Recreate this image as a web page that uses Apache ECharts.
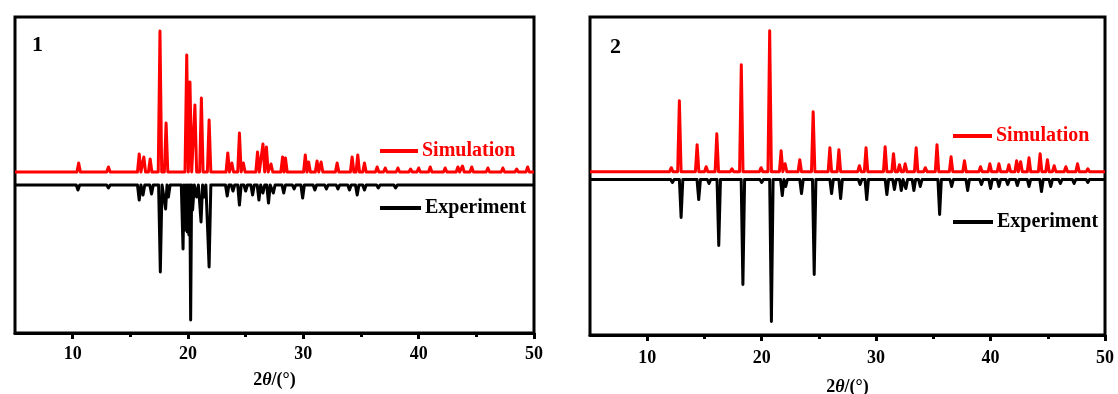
<!DOCTYPE html>
<html>
<head>
<meta charset="utf-8">
<script src="https://cdn.jsdelivr.net/npm/echarts@6/dist/echarts.min.js"></script>
<style>
html,body{margin:0;padding:0;background:#fff;}
#chart{width:1118px;height:394px;}
</style>
</head>
<body>
<div id="chart"></div>
<script>
// ---- Data (2θ in degrees, peak heights in arbitrary units) ----
const tickValues = [10, 20, 30, 40, 50];
const minorTickValues = [15, 25, 35, 45];
const seriesNames = ['Simulation', 'Experiment'];
const panelLabels = ['1', '2'];

// Panel 1
const sim1Pos = [10.52, 13.1, 15.77, 16.17, 16.72, 17.57, 18.1, 19.89, 20.17, 20.6, 21.16, 21.83, 23.45, 23.8, 24.46, 24.8, 26.03, 26.5, 26.8, 27.2, 28.2, 28.45, 30.17, 30.46, 31.19, 31.54, 32.93, 34.23, 34.72, 35.3, 36.4, 37.1, 38.2, 39.3, 40.0, 41.0, 42.3, 43.4, 43.8, 44.6, 46.0, 47.3, 48.5, 49.45];
const sim1H   = [9, 5, 18, 15, 13, 141, 49, 117, 90, 67, 74, 52, 19, 9, 39, 9, 20, 28, 25, 8, 15, 14, 17, 10, 11, 10, 9, 15, 17, 9, 5, 4, 4, 3, 4, 5, 4, 5, 6, 5, 4, 4, 3, 5];
const exp1Pos = [7.5, 10.46, 13.1, 15.77, 16.1, 16.84, 17.6, 18.06, 18.3, 19.57, 19.75, 19.94, 20.08, 20.23, 20.4, 20.75, 21.13, 21.4, 21.83, 23.4, 23.9, 24.46, 25.0, 25.6, 26.15, 26.5, 26.98, 27.4, 28.3, 29.2, 29.94, 31.0, 32.0, 33.0, 34.0, 34.67, 35.3, 36.5, 38.0, 40.5, 43.0, 45.5, 48.0];
const exp1H   = [2, 5, 3, 15, 10, 9, 87, 24, 12, 64, 45, 47, 50, 135, 25, 12, 37, 12, 82, 11, 6, 20, 6, 10, 15, 8, 18, 8, 8, 4, 13, 5, 4, 4, 5, 10, 5, 3, 3, 2, 2, 2, 2];

// Panel 2
const sim2Pos = [12.1, 12.81, 14.36, 15.15, 16.08, 17.4, 18.22, 19.95, 20.7, 21.7, 22.05, 23.33, 24.5, 25.96, 26.75, 28.54, 29.12, 30.79, 31.52, 32.04, 32.54, 33.5, 34.3, 35.32, 36.55, 37.72, 39.12, 39.94, 40.73, 41.6, 42.28, 42.63, 43.36, 44.33, 44.97, 45.56, 46.58, 47.6, 48.5];
const sim2H   = [4, 71, 27, 5, 38, 3, 107, 4, 141, 21, 8, 12, 60, 24, 22, 6, 24, 25, 18, 7, 8, 24, 4, 27, 15, 11, 5, 8, 8, 7, 11, 10, 14, 18, 12, 6, 5, 8, 3];
const exp2Pos = [12.2, 12.96, 14.5, 15.4, 16.25, 18.36, 20.0, 20.85, 21.8, 22.1, 23.48, 24.59, 26.11, 26.9, 28.6, 29.18, 30.94, 31.6, 32.2, 32.6, 33.3, 33.86, 35.55, 36.6, 38.0, 39.2, 40.0, 40.73, 41.5, 42.34, 43.36, 44.45, 45.26, 46.1, 47.3, 48.5];
const exp2H   = [3, 38, 20, 4, 66, 105, 3, 142, 16, 7, 14, 95, 14, 19, 5, 20, 15, 10, 11, 9, 11, 7, 35, 7, 11, 5, 9, 7, 5, 6, 7, 12, 7, 4, 4, 3];

// Vertical offsets of the stacked patterns (axis units)
const yMax = [316, 318];
const simBase = [161, 163.3];
const expBase = [148, 155.5];

// ---- Build stick-like peak profiles from peak lists ----
function profile(pos, h, base, sign, hw) {
  const pts = [[5, base]];
  for (let i = 0; i < pos.length; i++) {
    const p = pos[i];
    const lw = i > 0 ? Math.min(hw, (p - pos[i - 1]) / 2) : hw;
    const rw = i < pos.length - 1 ? Math.min(hw, (pos[i + 1] - p) / 2) : hw;
    pts.push([p - lw, base]);
    pts.push([p, base + sign * h[i]]);
    pts.push([p + rw, base]);
  }
  pts.push([50, base]);
  return pts;
}

const serif = 'Liberation Serif, Times New Roman, serif';
const RED = '#ff0000';
const BLACK = '#000000';

const rects = [
  { left: 15, top: 17, width: 519, height: 316 },
  { left: 590, top: 17, width: 515, height: 318 }
];

// grids 0,1: visible panels; grids 2,3: invisible overlays carrying minor ticks
const grids = [];
rects.forEach(r => grids.push(Object.assign({ show: true, borderColor: BLACK, borderWidth: 3, backgroundColor: 'transparent', outerBoundsMode: 'none', containLabel: false }, r)));
rects.forEach(r => grids.push(Object.assign({ show: false, outerBoundsMode: 'none', containLabel: false }, r)));

const xAxes = [];
const yAxes = [];
const nameGaps = [38, 43];
const labelMargins = [12, 14];
rects.forEach((g, i) => {
  xAxes.push({
    type: 'value', gridIndex: i, min: 5, max: 50, position: 'bottom',
    axisLine: { show: true, onZero: false, lineStyle: { color: BLACK, width: 3 } },
    splitLine: { show: false },
    axisTick: { show: true, inside: false, customValues: tickValues, length: 6, lineStyle: { color: BLACK, width: 3 } },
    axisLabel: { customValues: tickValues, margin: labelMargins[i], color: BLACK, fontFamily: serif, fontWeight: 'bold', fontSize: 18 },
    name: '{n|2}{i|θ}{n|/(°)}',
    nameLocation: 'middle',
    nameGap: nameGaps[i],
    nameTextStyle: {
      rich: {
        n: { fontFamily: serif, fontWeight: 'bold', fontSize: 18, color: BLACK },
        i: { fontFamily: serif, fontWeight: 'bold', fontStyle: 'italic', fontSize: 18, color: BLACK }
      }
    }
  });
});
rects.forEach((g, i) => {
  xAxes.push({
    type: 'value', gridIndex: i + 2, min: 5, max: 50, position: 'bottom',
    axisLine: { show: false, onZero: false }, splitLine: { show: false }, axisLabel: { show: false },
    axisTick: { show: true, inside: false, customValues: minorTickValues, length: 4, lineStyle: { color: BLACK, width: 3 } }
  });
});
[0, 1, 2, 3].forEach(i => {
  yAxes.push({
    type: 'value', gridIndex: i, min: 0, max: yMax[i % 2],
    axisLine: { show: false }, axisTick: { show: false }, axisLabel: { show: false }, splitLine: { show: false }
  });
});

const simData = [[sim1Pos, sim1H], [sim2Pos, sim2H]];
const expData = [[exp1Pos, exp1H], [exp2Pos, exp2H]];
const series = [];
[0, 1].forEach(i => {
  series.push({
    name: seriesNames[0], type: 'line', xAxisIndex: i, yAxisIndex: i,
    data: profile(simData[i][0], simData[i][1], simBase[i], 1, 0.15),
    showSymbol: false, symbol: 'none', color: RED,
    lineStyle: { color: RED, width: 3, join: 'round' }, z: 3
  });
  series.push({
    name: seriesNames[1], type: 'line', xAxisIndex: i, yAxisIndex: i,
    data: profile(expData[i][0], expData[i][1], expBase[i], -1, 0.15),
    showSymbol: false, symbol: 'none', color: BLACK,
    lineStyle: { color: BLACK, width: 3, join: 'round' }, z: 2
  });
});

function legendAt(name, color, left, top, w) {
  return {
    data: [{ name: name, textStyle: { color: color } }],
    left: left, top: top, padding: 0, icon: 'rect', itemWidth: w, itemHeight: 4,
    selectedMode: false,
    textStyle: { fontFamily: serif, fontWeight: 'bold', fontSize: 20, color: color, padding: [0, 0, 0, -1] }
  };
}

const option = {
  animation: false,
  backgroundColor: '#ffffff',
  grid: grids,
  xAxis: xAxes,
  yAxis: yAxes,
  legend: [
    legendAt(seriesNames[0], RED, 380, 141, 38),
    legendAt(seriesNames[1], BLACK, 380, 198, 41),
    legendAt(seriesNames[0], RED, 953, 126, 39),
    legendAt(seriesNames[1], BLACK, 953, 212, 40)
  ],
  graphic: [
    { type: 'text', left: 32, top: 34, style: { text: panelLabels[0], font: 'bold 22px ' + serif, fill: BLACK } },
    { type: 'text', left: 610, top: 36, style: { text: panelLabels[1], font: 'bold 22px ' + serif, fill: BLACK } }
  ],
  series: series
};

const chart = echarts.init(document.getElementById('chart'), null, { renderer: 'canvas' });
chart.setOption(option);
</script>
</body>
</html>
